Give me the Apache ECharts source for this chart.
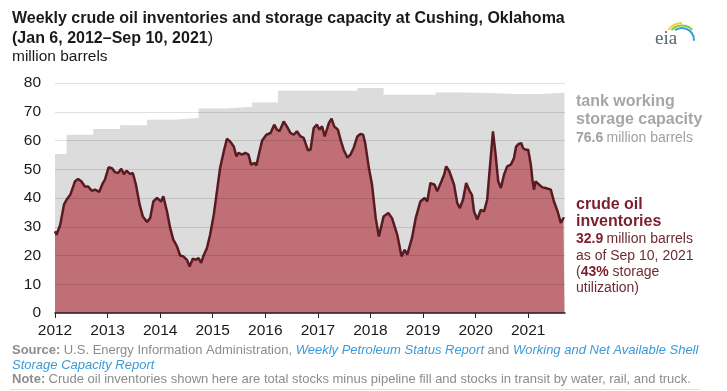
<!DOCTYPE html>
<html><head><meta charset="utf-8">
<script src="https://cdn.jsdelivr.net/npm/echarts@6/dist/echarts.min.js"></script>
<style>html,body{margin:0;padding:0;background:#fff}#c{width:727px;height:391px}</style>
</head><body><div id="c"></div>
<script>
// ---- data (decimal years, million barrels) ----
const yearTicks = [2012, 2013, 2014, 2015, 2016, 2017, 2018, 2019, 2020, 2021];
const yTicks = [0, 10, 20, 30, 40, 50, 60, 70, 80];

const capacityDates = [2012.0, 2012.22, 2012.73, 2013.24, 2013.75, 2014.24, 2014.73, 2015.24, 2015.75, 2016.24, 2016.75, 2017.24, 2017.75, 2018.25, 2018.75, 2019.24, 2019.75, 2020.25, 2020.75, 2021.24, 2021.69];
const capacityValues = [55.3, 62.0, 64.0, 65.3, 67.2, 67.8, 71.1, 71.7, 73.2, 77.3, 77.3, 77.3, 78.3, 75.9, 75.9, 76.7, 76.5, 76.2, 76.2, 76.6, 76.6];

const inventoryDates = [
  2012.00, 2012.03, 2012.10, 2012.17, 2012.22, 2012.29, 2012.38, 2012.44, 2012.50, 2012.57, 2012.63, 2012.70, 2012.76, 2012.84, 2012.91, 2012.95,
  2013.02, 2013.08, 2013.14, 2013.20, 2013.26, 2013.31, 2013.36, 2013.43, 2013.48, 2013.54, 2013.61, 2013.67, 2013.75, 2013.81, 2013.87, 2013.94, 2013.97,
  2014.02, 2014.06, 2014.13, 2014.19, 2014.25, 2014.32, 2014.38, 2014.44, 2014.51, 2014.56, 2014.62, 2014.68, 2014.73, 2014.78, 2014.82, 2014.89, 2014.95,
  2015.02, 2015.08, 2015.14, 2015.21, 2015.27, 2015.33, 2015.40, 2015.45, 2015.49, 2015.56, 2015.62, 2015.68, 2015.73, 2015.80, 2015.83, 2015.89, 2015.94,
  2016.02, 2016.10, 2016.17, 2016.22, 2016.27, 2016.35, 2016.41, 2016.48, 2016.54, 2016.60, 2016.67, 2016.73, 2016.81, 2016.86, 2016.92, 2016.98,
  2017.03, 2017.08, 2017.13, 2017.21, 2017.26, 2017.31, 2017.38, 2017.44, 2017.49, 2017.56, 2017.62, 2017.68, 2017.75, 2017.81, 2017.86, 2017.90, 2017.97,
  2018.03, 2018.10, 2018.16, 2018.25, 2018.34, 2018.41, 2018.51, 2018.59, 2018.65, 2018.70, 2018.79, 2018.86, 2018.95,
  2019.03, 2019.08, 2019.14, 2019.22, 2019.27, 2019.35, 2019.40, 2019.44, 2019.50, 2019.59, 2019.65, 2019.70, 2019.76, 2019.82, 2019.89, 2019.93, 2019.97,
  2020.03, 2020.10, 2020.16, 2020.22, 2020.27, 2020.33, 2020.38, 2020.43, 2020.48, 2020.54, 2020.60, 2020.67, 2020.73, 2020.77, 2020.82, 2020.87, 2020.90, 2020.95,
  2021.00, 2021.05, 2021.08, 2021.11, 2021.14, 2021.21, 2021.27, 2021.33, 2021.43, 2021.49, 2021.56, 2021.62, 2021.67, 2021.69
];
const inventoryValues = [
  28.4, 27.2, 30.7, 37.7, 39.4, 41.1, 45.8, 46.6, 45.8, 44.0, 44.0, 42.5, 42.9, 42.1, 45.2, 46.4,
  50.7, 50.4, 49.0, 48.7, 50.2, 48.3, 49.5, 48.3, 48.7, 44.6, 37.7, 33.6, 31.7, 33.0, 38.8, 40.0, 39.4,
  38.8, 40.6, 35.3, 29.6, 25.5, 23.2, 20.0, 19.7, 18.5, 16.2, 18.9, 18.5, 19.1, 17.4, 19.7, 22.6, 27.2,
  34.2, 42.3, 50.4, 56.2, 60.6, 59.7, 57.9, 54.5, 55.7, 55.1, 55.7, 55.1, 51.6, 52.2, 51.3, 56.2, 60.0,
  62.0, 62.6, 65.5, 63.8, 63.2, 66.6, 64.9, 62.6, 62.0, 63.2, 61.4, 60.9, 56.6, 56.8, 64.3, 65.5,
  63.8, 64.9, 61.4, 66.1, 67.6, 64.9, 63.8, 59.7, 56.8, 54.1, 55.1, 57.4, 61.4, 62.3, 62.0, 59.1, 50.4,
  44.6, 33.0, 26.6, 33.6, 34.8, 33.0, 27.2, 19.7, 22.0, 20.3, 26.1, 33.0, 38.8,
  40.0, 38.8, 45.2, 44.6, 42.3, 45.8, 48.1, 51.0, 49.3, 44.6, 38.3, 36.5, 39.4, 45.2, 42.3, 41.1, 35.3,
  32.5, 35.9, 35.3, 39.4, 50.4, 63.2, 55.1, 45.8, 43.5, 48.1, 51.0, 51.6, 53.9, 57.9, 58.8, 59.1, 57.4, 56.8,
  56.8, 51.6, 46.4, 42.9, 45.8, 44.6, 43.7, 43.5, 42.9, 38.8, 35.3, 31.3, 33.0, 32.9
];

const capacityData = capacityDates.map((d, i) => [d, capacityValues[i]]);
const inventoryData = inventoryDates.map((d, i) => [d, inventoryValues[i]]);

const NARROW = "'Liberation Sans Narrow', 'Arial Narrow', sans-serif";
const SANS = "'Liberation Sans', Arial, sans-serif";

const chart = echarts.init(document.getElementById('c'), null, {renderer: 'canvas'});
chart.setOption({
  animation: false,
  backgroundColor: '#ffffff',
  grid: {left: 55, top: 83, width: 510, height: 230, containLabel: false, outerBoundsMode: 'none'},
  xAxis: {
    type: 'value', min: 2012, max: 2021.7, interval: 1, z: 5,
    axisLine: {show: true, onZero: false, lineStyle: {color: '#222', width: 1.5}},
    axisTick: {show: true, length: 5, inside: false, lineStyle: {color: '#222', width: 1}, customValues: yearTicks},
    axisLabel: {customValues: yearTicks, formatter: v => String(v), color: '#1a1a1a', fontFamily: NARROW, fontSize: 15.5, margin: 10},
    splitLine: {show: false}
  },
  yAxis: {
    type: 'value', min: 0, max: 80, interval: 10, z: 3,
    axisLine: {show: false}, axisTick: {show: false},
    axisLabel: {customValues: yTicks, color: '#1a1a1a', fontFamily: NARROW, fontSize: 15.5, margin: 14},
    splitLine: {show: true, lineStyle: {color: 'rgba(0,0,0,0.12)', width: 1}}
  },
  series: [
    {
      name: 'tank working storage capacity', type: 'line', step: 'end', data: capacityData,
      symbol: 'none', lineStyle: {width: 0}, areaStyle: {color: '#dcdcdc', opacity: 1}, z: 1
    },
    {
      name: 'crude oil inventories', type: 'line', data: inventoryData,
      symbol: 'none', lineStyle: {color: '#5a1a22', width: 2.5}, areaStyle: {color: '#bf6f75', opacity: 1}, z: 2
    }
  ],
  graphic: [
    {type: 'text', left: 12, top: 11, style: {text: 'Weekly crude oil inventories and storage capacity at Cushing, Oklahoma', font: 'bold 16px ' + NARROW, fill: '#1a1a1a'}},
    {type: 'text', left: 12, top: 31, style: {text: '{b|(Jan 6, 2012–Sep 10, 2021}{n|)}', rich: {b: {font: 'bold 16px ' + NARROW, fill: '#1a1a1a'}, n: {font: '16px ' + NARROW, fill: '#1a1a1a'}}}},
    {type: 'text', left: 12, top: 49, style: {text: 'million barrels', font: '15.5px ' + NARROW, fill: '#1a1a1a'}},

    {type: 'text', left: 576, top: 94, style: {text: 'tank working', font: 'bold 16px ' + SANS, fill: '#a6a6a6'}},
    {type: 'text', left: 576, top: 112, style: {text: 'storage capacity', font: 'bold 16px ' + SANS, fill: '#a6a6a6'}},
    {type: 'text', left: 576, top: 131, style: {text: '{b|76.6} {n|million barrels}', rich: {b: {font: 'bold 14px ' + SANS, fill: '#a0a0a0'}, n: {font: '14px ' + SANS, fill: '#a0a0a0'}}}},

    {type: 'text', left: 576, top: 197, style: {text: 'crude oil', font: 'bold 16px ' + SANS, fill: '#7a1f2c'}},
    {type: 'text', left: 576, top: 214, style: {text: 'inventories', font: 'bold 16px ' + SANS, fill: '#7a1f2c'}},
    {type: 'text', left: 576, top: 232, style: {text: '{b|32.9} {n|million barrels}', rich: {b: {font: 'bold 14px ' + SANS, fill: '#7a1f2c'}, n: {font: '14px ' + SANS, fill: '#6e2a32'}}}},
    {type: 'text', left: 576, top: 249, style: {text: 'as of Sep 10, 2021', font: '14px ' + SANS, fill: '#6e2a32'}},
    {type: 'text', left: 576, top: 265, style: {text: '({b|43%} storage', font: '14px ' + SANS, fill: '#6e2a32', rich: {b: {font: 'bold 14px ' + SANS, fill: '#7a1f2c'}}}},
    {type: 'text', left: 576, top: 281, style: {text: 'utilization)', font: '14px ' + SANS, fill: '#6e2a32'}},

    {type: 'text', left: 12, top: 344, style: {text: '{b|Source:} {n|U.S. Energy Information Administration, }{l|Weekly Petroleum Status Report}{n| and }{l|Working and Net Available Shell}',
      rich: {b: {font: 'bold 13px ' + NARROW, fill: '#8c8c8c'}, n: {font: '13px ' + NARROW, fill: '#8c8c8c'}, l: {font: 'italic 13px ' + NARROW, fill: '#3b9ad8'}}}},
    {type: 'text', left: 12, top: 359, style: {text: 'Storage Capacity Report', font: 'italic 13px ' + NARROW, fill: '#3b9ad8'}},
    {type: 'text', left: 12, top: 373, style: {text: '{b|Note:} {n|Crude oil inventories shown here are total stocks minus pipeline fill and stocks in transit by water, rail, and truck.}',
      rich: {b: {font: 'bold 13px ' + NARROW, fill: '#8c8c8c'}, n: {font: '13px ' + NARROW, fill: '#8c8c8c'}}}},
    {type: 'line', shape: {x1: 10, y1: 389.5, x2: 700, y2: 389.5}, style: {stroke: '#e0e0e0', lineWidth: 1}},

    {type: 'text', left: 655, top: 30, style: {text: 'eia', font: '19px "Liberation Serif", "DejaVu Serif", serif', fill: '#55676e'}},
    {type: 'arc', shape: {cx: 682, cy: 40, r: 17, startAngle: Math.PI * 1.2, endAngle: Math.PI * 1.5}, style: {stroke: '#f2d33a', lineWidth: 2, fill: null}},
    {type: 'arc', shape: {cx: 682, cy: 40, r: 14.5, startAngle: Math.PI * 1.24, endAngle: Math.PI * 1.75}, style: {stroke: '#8cc63f', lineWidth: 2, fill: null}},
    {type: 'arc', shape: {cx: 682, cy: 40, r: 12, startAngle: Math.PI * 1.3, endAngle: Math.PI * 2.02}, style: {stroke: '#2e9fd8', lineWidth: 2, fill: null}}
  ]
});
</script>
</body></html>
